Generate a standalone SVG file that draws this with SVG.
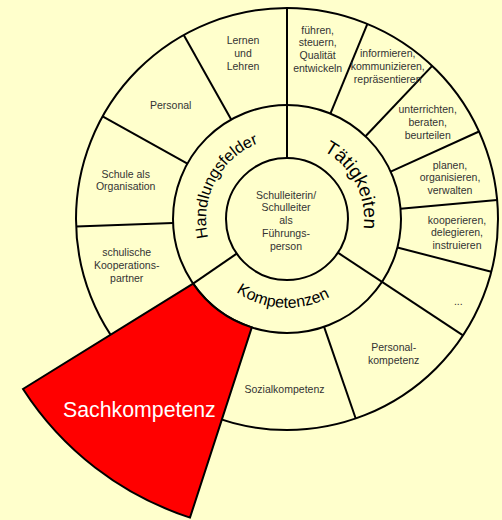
<svg xmlns="http://www.w3.org/2000/svg" width="502" height="520" viewBox="0 0 502 520">
<style>
.ln{fill:none;stroke:#000;stroke-width:2}
.t{font-family:"Liberation Sans",Arial,sans-serif;font-size:10.5px;fill:#333;text-anchor:middle}
.c{font-family:"Liberation Sans",Arial,sans-serif;fill:#000}
</style>
<defs>
<path id="pH" d="M 237.1 282.8 A 81 81 0 0 1 312.0 142.0"/>
<path id="pT" d="M 264.1 145.5 A 77 77 0 0 1 333.7 280.3"/>
<path id="pK" d="M 198.7 229.8 A 89 89 0 0 0 373.7 239.0"/>
</defs>
<rect width="502" height="520" fill="#FFFFCC"/>
<g id="rings">
<circle class="ln" cx="287" cy="219" r="211"/>
<circle class="ln" cx="287" cy="219" r="114"/>
<circle class="ln" cx="287" cy="219" r="61"/>
</g>
<g id="connectors">
<line class="ln" x1="287" y1="158" x2="287" y2="8"/>
<line class="ln" x1="330.4" y1="113.6" x2="367.4" y2="23.9"/>
<line class="ln" x1="365.5" y1="136.3" x2="432.2" y2="65.9"/>
<line class="ln" x1="390.7" y1="171.7" x2="479.0" y2="131.5"/>
<line class="ln" x1="400.5" y1="208.7" x2="497.1" y2="199.9"/>
<line class="ln" x1="397.4" y1="247.5" x2="491.3" y2="271.8"/>
<line class="ln" x1="337.9" y1="252.7" x2="463.0" y2="335.4"/>
<line class="ln" x1="324.1" y1="326.8" x2="355.7" y2="418.5"/>
<line class="ln" x1="236.7" y1="253.6" x2="193.1" y2="283.6"/>
<line class="ln" x1="173.1" y1="223.0" x2="76.1" y2="226.4"/>
<line class="ln" x1="187.4" y1="163.6" x2="102.6" y2="116.4"/>
<line class="ln" x1="231.2" y1="119.6" x2="183.7" y2="35.0"/>
</g>
<g id="sachkompetenz">
<path d="M 193.1 283.6 L 23 389 A 314 314 0 0 0 190 517.6 L 251.8 327.4 A 114 114 0 0 1 193.1 283.6 Z" fill="#FF0000" stroke="#000" stroke-width="2" stroke-linejoin="miter"/>
<text x="139.4" y="416.7" font-family="Liberation Sans,Arial,sans-serif" font-size="21.3" fill="#fff" text-anchor="middle">Sachkompetenz</text>
</g>
<g id="center">
<text class="t" x="286" y="198.7">Schulleiterin/<tspan x="286" dy="12.75">Schulleiter</tspan><tspan x="286" dy="12.75">als</tspan><tspan x="286" dy="12.75">Führungs-</tspan><tspan x="286" dy="12.75">person</tspan></text>
</g>
<g id="handlungsfelder">
<text class="c" font-size="16"><textPath href="#pH" startOffset="50%" text-anchor="middle">Handlungsfelder</textPath></text>
</g>
<g id="taetigkeiten">
<text class="c" font-size="19"><textPath href="#pT" startOffset="50%" text-anchor="middle">Tätigkeiten</textPath></text>
</g>
<g id="kompetenzen">
<text class="c" font-size="16"><textPath href="#pK" startOffset="50%" text-anchor="middle">Kompetenzen</textPath></text>
</g>
<g id="lernen"><text class="t" x="243" y="44.4">Lernen<tspan x="243" dy="12.75">und</tspan><tspan x="243" dy="12.75">Lehren</tspan></text></g>
<g id="fuehren"><text class="t" x="317.7" y="33.7">führen,<tspan x="317.7" dy="12.75">steuern,</tspan><tspan x="317.7" dy="12.75">Qualität</tspan><tspan x="317.7" dy="12.75">entwickeln</tspan></text></g>
<g id="informieren"><text class="t" x="387.7" y="57">informieren,<tspan x="387.7" dy="12.75">kommunizieren,</tspan><tspan x="387.7" dy="12.75">repräsentieren</tspan></text></g>
<g id="unterrichten"><text class="t" x="427.7" y="113">unterrichten,<tspan x="427.7" dy="12.75">beraten,</tspan><tspan x="427.7" dy="12.75">beurteilen</tspan></text></g>
<g id="planen"><text class="t" x="450" y="168.7">planen,<tspan x="450" dy="12.75">organisieren,</tspan><tspan x="450" dy="12.75">verwalten</tspan></text></g>
<g id="kooperieren"><text class="t" x="457" y="223.7">kooperieren,<tspan x="457" dy="12.75">delegieren,</tspan><tspan x="457" dy="12.75">instruieren</tspan></text></g>
<g id="weitere"><text class="t" x="458.3" y="305">...</text></g>
<g id="personalkompetenz"><text class="t" x="393.7" y="351">Personal-<tspan x="393.7" dy="12.75">kompetenz</tspan></text></g>
<g id="sozialkompetenz"><text class="t" x="284.5" y="393">Sozialkompetenz</text></g>
<g id="personal"><text class="t" x="170.7" y="109">Personal</text></g>
<g id="schule"><text class="t" x="125.7" y="177.7">Schule als<tspan x="125.7" dy="12.75">Organisation</tspan></text></g>
<g id="schulische"><text class="t" x="126.7" y="255.5">schulische<tspan x="126.7" dy="13.1">Kooperations-</tspan><tspan x="126.7" dy="13.1">partner</tspan></text></g>
</svg>
